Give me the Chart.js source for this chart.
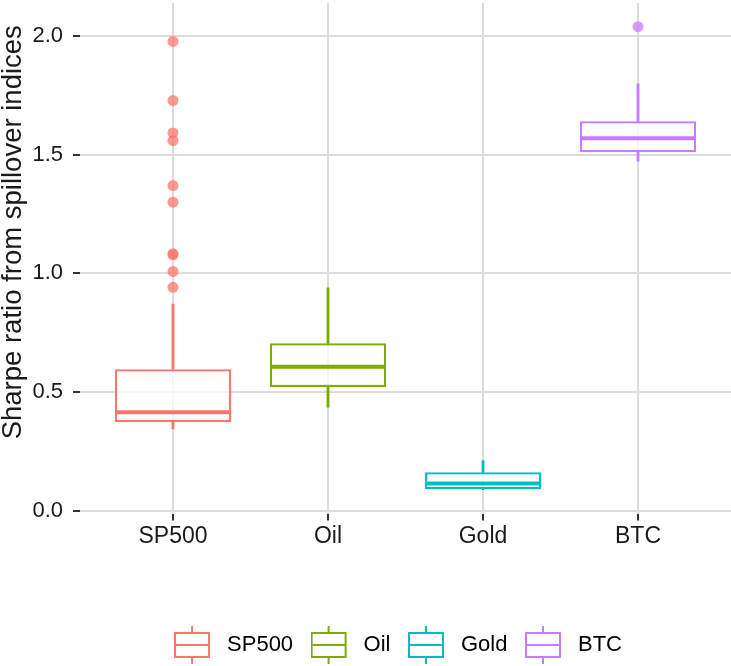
<!DOCTYPE html>
<html>
<head>
<meta charset="utf-8">
<script src="https://cdn.jsdelivr.net/npm/chart.js@4.4.1/dist/chart.umd.min.js"></script>
<style>
  html, body { margin: 0; padding: 0; background: #fff; }
  canvas { display: block; }
</style>
</head>
<body>
<canvas id="chart" width="731" height="666"></canvas>
<script>
// box statistics
const categories = ['SP500', 'Oil', 'Gold', 'BTC'];
const lowerWhisker = [0.344, 0.436, 0.088, 1.473];
const lowerHinge = [0.372, 0.521, 0.091, 1.511];
const medians = [0.414, 0.606, 0.114, 1.570];
const upperHinge = [0.596, 0.705, 0.161, 1.641];
const upperWhisker = [0.871, 0.939, 0.211, 1.799];

// outliers per category
const outliersSP500 = [1.978, 1.729, 1.592, 1.560, 1.370, 1.300, 1.083, 1.078, 1.008, 0.941];
const outliersOil = [];
const outliersGold = [];
const outliersBTC = [2.040];

const yTicks = [0, 0.5, 1.0, 1.5, 2.0];

const colors = ['#F8766D', '#7CAE00', '#00BFC4', '#C77CFF'];
const pointColors = ['rgba(248,118,109,0.75)', 'rgba(124,174,0,0.75)', 'rgba(0,191,196,0.75)', 'rgba(199,124,255,0.75)'];

const xPos = categories.map((c, i) => i + 1);

const outliers = [outliersSP500, outliersOil, outliersGold, outliersBTC];
let outlierPts = [], outlierCols = [];
outliers.forEach((list, i) => {
	list.forEach(v => {
		outlierPts.push({x: xPos[i], y: v});
		outlierCols.push(pointColors[i]);
	});
});

Chart.defaults.font.family = '"Liberation Sans", Arial, sans-serif';
Chart.defaults.color = '#1a1a1a';

// little boxplot key for the legend
function boxGlyph(color) {
	const c = document.createElement('canvas');
	c.width = 42; c.height = 38;
	const g = c.getContext('2d');
	g.strokeStyle = color;
	g.lineWidth = 2;
	g.beginPath(); g.moveTo(18, 0); g.lineTo(18, 38); g.stroke();
	g.fillStyle = '#fff';
	g.fillRect(1, 7, 34, 24);
	g.strokeRect(1, 7, 34, 24);
	g.beginPath(); g.moveTo(1, 19); g.lineTo(35, 19); g.stroke();
	return c;
}
const glyphs = colors.map(boxGlyph);

// ggplot-ish placement of legend and y title
const tweaks = {
	id: 'tweaks',
	afterLayout(chart) {
		chart.legend.left = 65;
		const y = chart.scales.y;
		if (!y._nudged) {
			const orig = y.drawTitle.bind(y);
			y.drawTitle = function() {
				chart.ctx.save();
				chart.ctx.translate(0, -26);
				orig();
				chart.ctx.restore();
			};
			y._nudged = true;
		}
	}
};

const chart = new Chart(document.getElementById('chart'), {
	type: 'bar',
	data: {
		datasets: [
			{
				type: 'scatter',
				data: outlierPts,
				pointRadius: 5.5,
				pointBorderWidth: 0,
				pointBackgroundColor: outlierCols
			},
			{
				type: 'scatter',
				data: xPos.map((x, i) => ({x: x, y: medians[i]})),
				pointStyle: 'line',
				pointRadius: 58,
				pointBorderWidth: 4,
				pointBorderColor: colors
			},
			{
				type: 'bar',
				grouped: false,
				data: xPos.map((x, i) => ({x: x, y: [lowerHinge[i], upperHinge[i]]})),
				backgroundColor: 'rgba(255,255,255,0.75)',
				borderColor: colors,
				borderWidth: 2.2,
				borderSkipped: false,
				categoryPercentage: 1,
				barPercentage: 0.75
			},
			{
				type: 'bar',
				grouped: false,
				data: xPos.map((x, i) => ({x: x, y: [upperHinge[i], upperWhisker[i]]})),
				backgroundColor: colors,
				borderWidth: 0,
				barThickness: 2.2
			},
			{
				type: 'bar',
				grouped: false,
				data: xPos.map((x, i) => ({x: x, y: [lowerWhisker[i], lowerHinge[i]]})),
				backgroundColor: colors,
				borderWidth: 0,
				barThickness: 2.2
			}
		]
	},
	options: {
		responsive: false,
		animation: false,
		events: [],
		layout: { autoPadding: false, padding: { top: 3, left: 0, right: 0, bottom: 0 } },
		plugins: {
			tooltip: { enabled: false },
			legend: {
				position: 'bottom',
				onClick: null,
				labels: {
					usePointStyle: true,
					pointStyleWidth: 42,
					padding: 17.5,
					color: '#1a1a1a',
					font: { size: 22 },
					generateLabels: () => categories.map((c, i) => ({
						text: c,
						pointStyle: glyphs[i],
						fillStyle: colors[i],
						strokeStyle: colors[i],
						lineWidth: 0,
						hidden: false,
						datasetIndex: 0
					}))
				}
			}
		},
		scales: {
			x: {
				type: 'linear',
				min: 0.4,
				max: 4.6,
				offset: false,
				afterBuildTicks: (scale) => { scale.ticks = xPos.map(v => ({value: v})); },
				afterFit: (scale) => {
					scale.height = 103;
					scale.paddingLeft = 0;
					scale.paddingRight = 0;
				},
				ticks: {
					padding: 2,
					font: { size: 23 },
					color: '#1a1a1a',
					callback: (v, i) => categories[i]
				},
				grid: { offset: false, color: '#DCDCDC', lineWidth: 2, tickColor: '#333', tickLength: 7, tickWidth: 2 },
				border: { display: false }
			},
			y: {
				type: 'linear',
				min: -0.0125,
				max: 2.14,
				afterBuildTicks: (scale) => { scale.ticks = yTicks.map(v => ({value: v})); },
				afterFit: (scale) => {
					scale.width = 80;
					scale.paddingTop = 0;
					scale.paddingBottom = 0;
				},
				ticks: {
					padding: 10,
					font: { size: 22 },
					color: '#1a1a1a',
					callback: (v) => v.toFixed(1)
				},
				grid: { color: '#DCDCDC', lineWidth: 2, tickColor: '#333', tickLength: 7, tickWidth: 2 },
				border: { display: false },
				title: {
					display: true,
					text: 'Sharpe ratio from spillover indices',
					color: '#1a1a1a',
					font: { size: 27.5, lineHeight: 1 },
					padding: 0
				}
			}
		}
	},
	plugins: [tweaks]
});
</script>
</body>
</html>
